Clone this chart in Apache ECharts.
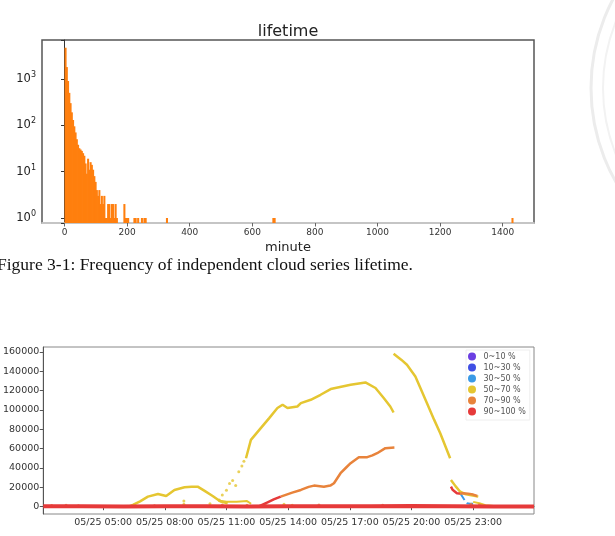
<!DOCTYPE html>
<html>
<head>
<meta charset="utf-8">
<script src="https://cdn.jsdelivr.net/npm/echarts@6.0.0/dist/echarts.min.js"></script>
<style>
html, body { margin: 0; padding: 0; background: #fff; }
#main { width: 615px; height: 536px; }
</style>
</head>
<body>
<div id="main"></div>
<script>
// lifetime histogram: left edge of each 4 minute bin and how many series fall in it
var binWidth = 4;
var lifeMinutes = [0, 4, 8, 12, 16, 20, 24, 28, 32, 36, 40, 44, 48, 52, 56, 60, 64, 68, 72, 76,
  80, 84, 88, 92, 96, 100, 104, 108, 112, 116, 120, 124, 128, 132, 136, 140, 144, 148, 152, 156,
  160, 164, 188, 192, 196, 200, 220, 224, 232, 244, 252, 256, 324, 664, 668, 1428];
var lifeCounts = [4700, 1800, 900, 500, 300, 190, 130, 95, 70, 50, 38, 32, 30, 28, 25, 22, 15, 9, 19, 11,
  16, 14, 11, 8, 6, 4, 3, 4, 2, 3, 2, 3, 1, 1, 2, 2, 1, 2, 2, 1,
  2, 1, 2, 1, 1, 1, 1, 1, 1, 1, 1, 1, 1, 1, 1, 1];
var minuteTicks = [0, 200, 400, 600, 800, 1000, 1200, 1400];

// cloud area tracks, [hour of 05/25, area]
var timeTicks = [5, 8, 11, 14, 17, 20, 23];
var areaTicks = [0, 20000, 40000, 60000, 80000, 100000, 120000, 140000, 160000];
var coverLevels = ['0~10 %', '10~30 %', '30~50 %', '50~70 %', '70~90 %', '90~100 %'];
var coverColors = ['#6b3fe2', '#3f4fe4', '#3a9ae6', '#e5c631', '#e8833b', '#e63a3a'];

var yellowHump = [[6.3, 500], [6.45, 1800], [6.8, 5500], [7.18, 10400], [7.67, 13200], [8.07, 11100],
  [8.47, 17300], [8.96, 20100], [9.3, 20600], [9.6, 20700], [9.92, 16600], [10.33, 11100],
  [10.73, 5200], [11.06, 3500]];
var yellowLow = [[10.6, 6500], [11.0, 5000], [11.5, 5200], [12.0, 5800], [12.2, 3000]];
var yellowRise = [[11.95, 50100], [12.19, 69100], [12.67, 81200], [13.08, 91600], [13.48, 102000],
  [13.73, 105400], [13.97, 102000], [14.45, 103600], [14.62, 107100], [15.1, 110500], [15.58, 115700],
  [16.07, 121600], [17.04, 126100], [17.76, 128500], [18.25, 122700], [18.65, 112300], [18.97, 103600],
  [19.13, 97400]];
var yellowDots = [[10.65, 7000], [10.8, 12000], [11.0, 17000], [11.15, 24000], [11.3, 27000], [11.45, 22000],
  [11.6, 36000], [11.75, 42000], [11.85, 47000], [8.93, 6000], [8.93, 2500], [10.2, 3000],
  [12.9, 1500], [13.8, 2500], [14.2, 1500]];
var yellowSteep = [[19.13, 158200], [19.5, 152000], [19.78, 146800], [20.19, 134700], [20.45, 122000],
  [20.75, 107100], [21.1, 90000], [21.4, 76000], [21.88, 50100]];
var yellowTail = [[21.92, 27700], [22.15, 21000], [22.37, 15500], [22.6, 13200], [22.85, 12100], [23.25, 10400]];
var yellowFade = [[23.0, 5000], [23.3, 3500], [23.6, 1500], [24.0, 600]];
var orangeRise = [[13.64, 10400], [14.2, 14500], [14.62, 17300], [15.0, 20500], [15.26, 21800], [15.74, 20700],
  [16.05, 21800], [16.23, 24200], [16.55, 34600], [16.8, 40000], [17.04, 45000], [17.44, 51200],
  [17.85, 51200], [18.1, 53000], [18.33, 55300], [18.73, 60500], [19.17, 61100]];
var orangeTail = [[22.3, 13500], [22.53, 14000], [22.75, 13500], [23.0, 12500], [23.2, 11000]];
var orangeDots = [[2.5, 1200], [3.2, 1500], [3.8, 1000], [7.5, 1000], [10.8, 1800], [12.0, 1500],
  [15.5, 1800], [18.6, 1500], [22.9, 2500], [23.3, 2000]];
var redRise = [[12.6, 500], [12.67, 1200], [13.0, 4500], [13.3, 7500], [13.64, 10400]];
var redTail = [[21.92, 20700], [22.0, 17500], [22.21, 13900], [22.35, 13500]];
var redBase = [[2.09, 400], [4, 500], [6, 300], [8, 500], [10, 400], [12, 300], [14, 500], [16, 400],
  [18, 500], [20, 600], [22, 500], [24, 300], [25.96, 300]];
var blueDash = [[22.37, 13900], [22.55, 8000], [22.69, 3500], [22.85, 3000], [23.0, 3000]];

var chart = echarts.init(document.getElementById('main'));
var font = 'DejaVu Sans';

function pad(n) { return (n < 10 ? '0' : '') + n; }
function plain(v) { return String(v); }

function track(level, pts, width, dashed) {
  return {
    name: coverLevels[level], type: 'line', xAxisIndex: 1, yAxisIndex: 1,
    data: pts, showSymbol: false, symbol: 'circle', silent: true,
    itemStyle: { color: coverColors[level] },
    lineStyle: { color: coverColors[level], width: width, type: dashed ? 'dashed' : 'solid' },
    z: level === 5 ? 4 : 3
  };
}

function dots(level, pts) {
  return {
    name: coverLevels[level], type: 'scatter', xAxisIndex: 1, yAxisIndex: 1,
    data: pts, symbolSize: 3, itemStyle: { color: coverColors[level] }, silent: true, z: 3
  };
}

var series = [
  {
    type: 'custom', xAxisIndex: 0, yAxisIndex: 0, silent: true,
    data: lifeMinutes.map(function (m, i) { return [m, lifeCounts[i]]; }),
    renderItem: function (params, api) {
      var lo = api.coord([api.value(0), 0.78]);
      var hi = api.coord([api.value(0) + binWidth, api.value(1)]);
      return {
        type: 'rect',
        // a little overlap so neighbouring bins read as one block
        shape: { x: lo[0], y: hi[1], width: Math.max(hi[0] - lo[0] + 0.8, 1), height: lo[1] - hi[1] },
        style: { fill: '#ff7f0e' }
      };
    }
  },
  // empty levels so the legend lists them
  track(0, [], 2.5), track(1, [], 2.5),
  track(2, blueDash, 2, true),
  track(3, yellowHump, 2.5), track(3, yellowLow, 2), track(3, yellowRise, 2.5),
  track(3, yellowSteep, 2.5), track(3, yellowTail, 2.5), track(3, yellowFade, 2),
  dots(3, yellowDots),
  track(4, orangeRise, 2.5), track(4, orangeTail, 2.5), dots(4, orangeDots),
  track(5, redRise, 2.5), track(5, redTail, 2.5), track(5, redBase, 4)
];

var option = {
  animation: false,
  backgroundColor: '#fff',
  title: {
    text: 'lifetime', left: 288, top: 24, textAlign: 'center', padding: 0,
    textStyle: { fontFamily: font, fontSize: 16, fontWeight: 'normal', color: '#222' }
  },
  legend: {
    data: coverLevels, orient: 'vertical', left: 466, top: 350,
    backgroundColor: '#fff', borderColor: '#eee', borderWidth: 1, padding: [1, 4, 3, 2],
    icon: 'circle', itemWidth: 13, itemHeight: 8, itemGap: 0,
    textStyle: { fontFamily: font, fontSize: 8, lineHeight: 11, color: '#555' }
  },
  grid: [
    { left: 42, right: 81, top: 40, bottom: 313, show: true, borderColor: '#555', borderWidth: 1.5 },
    { left: 42, right: 81, top: 347, bottom: 22, show: true, borderColor: '#888', borderWidth: 1 }
  ],
  xAxis: [
    {
      type: 'value', gridIndex: 0, min: -72, max: 1500,
      name: 'minute', nameLocation: 'middle', nameGap: 18,
      nameTextStyle: { fontFamily: font, fontSize: 13, color: '#222' },
      axisLine: { lineStyle: { color: '#ddd', width: 1.5 } },
      axisTick: { customValues: minuteTicks, length: 3.5, lineStyle: { color: '#666' } },
      axisLabel: { customValues: minuteTicks, margin: 5, fontFamily: font, fontSize: 9, color: '#333', formatter: plain },
      splitLine: { show: false }
    },
    {
      type: 'value', gridIndex: 1, min: 2.09, max: 25.96,
      axisLine: { lineStyle: { color: '#555' } },
      axisTick: { customValues: timeTicks, length: 3.5, lineStyle: { color: '#555' } },
      axisLabel: {
        customValues: timeTicks, margin: 4, fontFamily: font, fontSize: 9.5, color: '#333',
        formatter: function (h) { return '05/25 ' + pad(h) + ':00'; }
      },
      splitLine: { show: false }
    }
  ],
  yAxis: [
    {
      type: 'log', logBase: 10, gridIndex: 0, min: 0.78, max: 6900,
      axisLine: { show: true, lineStyle: { color: '#333' } },
      axisTick: { length: 3.5, lineStyle: { color: '#333' } },
      axisLabel: {
        margin: 6,
        formatter: function (v) {
          var e = Math.log10(v);
          if (Math.abs(e - Math.round(e)) > 1e-6) return '';
          return '{b|10}{s|' + Math.round(e) + '}';
        },
        rich: {
          b: { fontFamily: font, fontSize: 11.5, color: '#222', lineHeight: 16 },
          s: { fontFamily: font, fontSize: 8, color: '#222', lineHeight: 8, verticalAlign: 'top' }
        }
      },
      splitLine: { show: false }
    },
    {
      type: 'value', gridIndex: 1, min: -7560, max: 165100,
      axisLine: { show: true, lineStyle: { color: '#555' } },
      axisTick: { customValues: areaTicks, length: 3.5, lineStyle: { color: '#555' } },
      axisLabel: { customValues: areaTicks, margin: 4, fontFamily: font, fontSize: 9.5, color: '#333', formatter: plain },
      splitLine: { show: false }
    }
  ],
  graphic: [
    {
      type: 'text', left: -3, top: 256, silent: true,
      style: {
        text: 'Figure 3-1: Frequency of independent cloud series lifetime.',
        font: '17.5px "Liberation Serif", serif', fill: '#111'
      }
    },
    {
      // faint seal watermark at the page corner
      type: 'circle', silent: true, z: -1,
      shape: { cx: 781, cy: 88, r: 190 },
      style: { fill: 'none', stroke: '#ececec', lineWidth: 3 }
    },
    {
      type: 'circle', silent: true, z: -1,
      shape: { cx: 781, cy: 88, r: 178 },
      style: { fill: 'none', stroke: '#f2f2f2', lineWidth: 2 }
    }
  ],
  series: series
};

chart.setOption(option);
</script>
</body>
</html>
